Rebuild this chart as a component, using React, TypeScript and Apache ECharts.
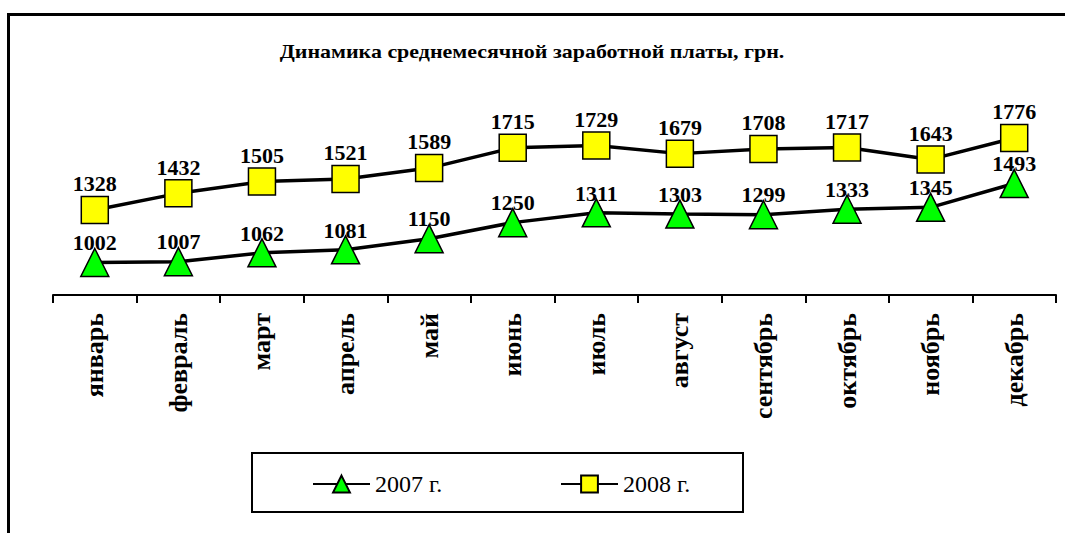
import React, { useEffect, useRef } from "react";
import * as echarts from "echarts";

const months = [
  "январь", "февраль", "март", "апрель", "май", "июнь",
  "июль", "август", "сентябрь", "октябрь", "ноябрь", "декабрь",
];
const series2007 = [1002, 1007, 1062, 1081, 1150, 1250, 1311, 1303, 1299, 1333, 1345, 1493];
const series2008 = [1328, 1432, 1505, 1521, 1589, 1715, 1729, 1679, 1708, 1717, 1643, 1776];
const seriesNames = ["2007 г.", "2008 г."];
const chartTitle = "Динамика среднемесячной заработной платы, грн.";

const FONT = "Liberation Serif";

export default function App() {
  const ref = useRef<HTMLDivElement>(null);
  useEffect(() => {
    if (!ref.current) return;
    const chart = echarts.init(ref.current, null, { renderer: "svg" });
    const labelStyle = {
      show: true,
      position: "top" as const,
      fontFamily: FONT,
      fontSize: 22,
      fontWeight: "bold" as const,
      color: "#000",
    };
    chart.setOption({
      animation: false,
      backgroundColor: "#fff",
      textStyle: { fontFamily: FONT },
      graphic: [
        {
          type: "rect",
          shape: { x: 8.5, y: 14.5, width: 1080, height: 540 },
          style: { fill: "none", stroke: "#000", lineWidth: 3 },
          silent: true,
        },
        {
          type: "text",
          x: 532,
          y: 52,
          scaleX: 1.22,
          style: {
            text: chartTitle,
            fontFamily: FONT,
            fontSize: 18,
            fontWeight: "bold",
            fill: "#000",
            align: "center",
            verticalAlign: "middle",
          },
        },
        {
          type: "rect",
          shape: { x: 252, y: 453, width: 491, height: 59 },
          style: { fill: "none", stroke: "#000", lineWidth: 2 },
          silent: true,
        },
      ],
      legend: [
        {
          data: [seriesNames[0]],
          left: 312,
          top: 472,
          padding: 0,
          itemWidth: 57,
          itemHeight: 21,
          textStyle: { fontFamily: FONT, fontSize: 24, color: "#000" },
        },
        {
          data: [seriesNames[1]],
          left: 560,
          top: 472,
          padding: 0,
          itemWidth: 57,
          itemHeight: 21,
          textStyle: { fontFamily: FONT, fontSize: 24, color: "#000" },
        },
      ],
      grid: { left: 53, right: 9, top: 102, bottom: 238 },
      xAxis: {
        type: "category",
        data: months,
        boundaryGap: true,
        axisLine: { lineStyle: { color: "#000", width: 2 } },
        axisTick: { show: true, length: 8, lineStyle: { color: "#000", width: 2 } },
        axisLabel: {
          rotate: 90,
          interval: 0,
          margin: 18,
          fontFamily: FONT,
          fontSize: 26,
          fontWeight: "bold",
          color: "#000",
          padding: [0, 0, 0, 0],
        },
      },
      yAxis: {
        type: "value",
        min: 800,
        max: 2000,
        show: false,
        splitLine: { show: false },
      },
      series: [
        {
          name: seriesNames[0],
          type: "line",
          data: series2007,
          symbol: "triangle",
          symbolSize: 28,
          lineStyle: { color: "#000", width: 3.5 },
          itemStyle: { color: "#00ff00", borderColor: "#000", borderWidth: 1.5 },
          label: { ...labelStyle, distance: -6 },
          z: 3,
        },
        {
          name: seriesNames[1],
          type: "line",
          data: series2008,
          symbol: "rect",
          symbolSize: 27,
          lineStyle: { color: "#000", width: 3.5 },
          itemStyle: { color: "#ffff00", borderColor: "#000", borderWidth: 1.5 },
          label: { ...labelStyle, distance: 1 },
          z: 2,
        },
      ],
    });
    return () => chart.dispose();
  }, []);
  return (
    <div
      ref={ref}
      style={{ position: "absolute", left: 0, top: 0, width: 1065, height: 533 }}
    />
  );
}
